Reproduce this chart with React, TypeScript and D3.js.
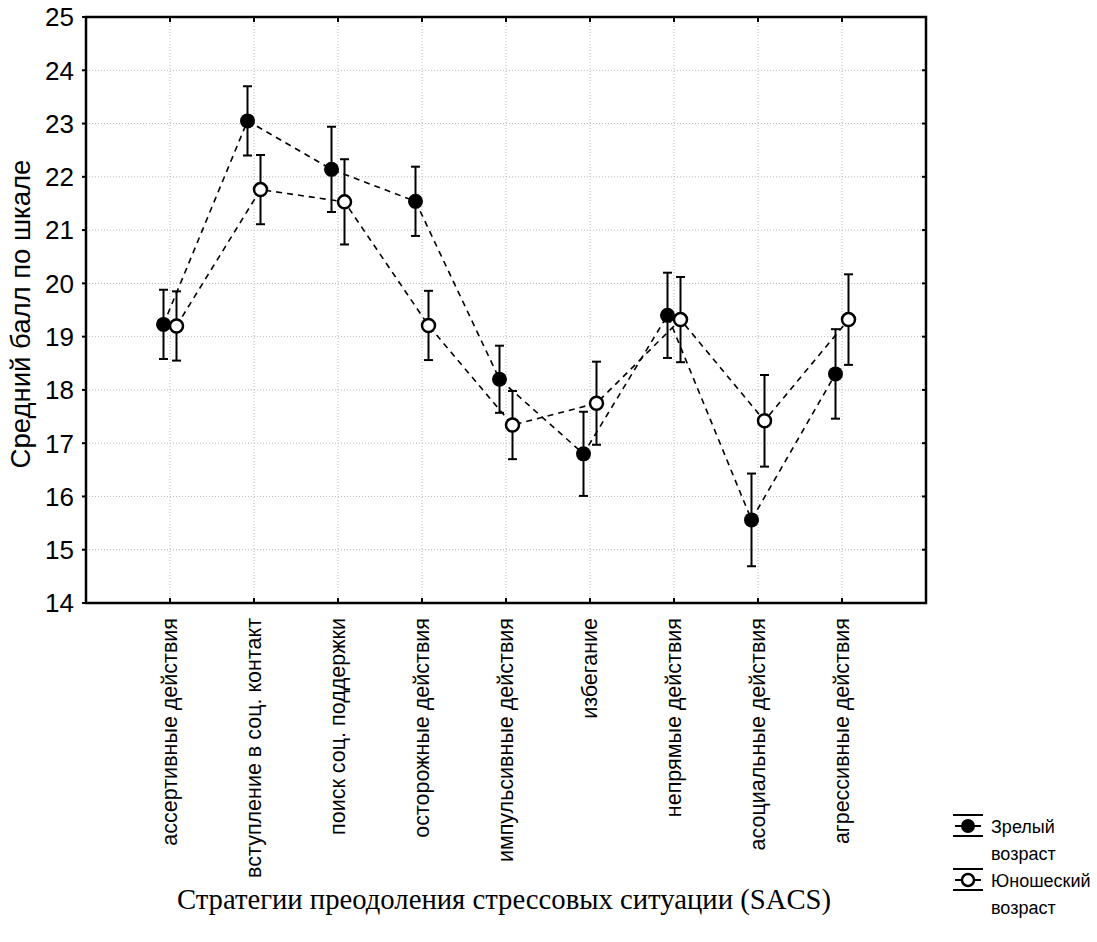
import React from "react";
import * as d3 from "d3";

const categories = [
  "ассертивные действия",
  "вступление в соц. контакт",
  "поиск соц. поддержки",
  "осторожные действия",
  "импульсивные действия",
  "избегание",
  "непрямые действия",
  "асоциальные действия",
  "агрессивные действия",
];

const matureMean = [19.23, 23.05, 22.14, 21.54, 18.2, 16.8, 19.4, 15.56, 18.3];
const matureErr = [0.65, 0.65, 0.8, 0.65, 0.63, 0.79, 0.8, 0.87, 0.84];
const youthMean = [19.2, 21.76, 21.53, 19.21, 17.34, 17.75, 19.32, 17.42, 19.32];
const youthErr = [0.65, 0.65, 0.8, 0.65, 0.64, 0.78, 0.8, 0.86, 0.85];

const yTicks = [14, 15, 16, 17, 18, 19, 20, 21, 22, 23, 24, 25];
const legendLabels = [["Зрелый", "возраст"], ["Юношеский", "возраст"]];
const yTitle = "Средний балл по шкале";
const xTitle = "Стратегии преодоления стрессовых ситуации (SACS)";

export default function App() {
  const W = 1097, H = 942;
  const left = 86, right = 926, top = 17, bottom = 603;
  const x = d3.scaleLinear().domain([0, 10]).range([left, right]);
  const y = d3.scaleLinear().domain([14, 25]).range([bottom, top]);
  const off = 6.5;
  const sans = "Arial, 'Liberation Sans', sans-serif";

  const matureLine = d3.line<number>().x((_, i) => x(i + 1) - off).y((d) => y(d));
  const youthLine = d3.line<number>().x((_, i) => x(i + 1) + off).y((d) => y(d));

  const errBar = (cx: number, m: number, e: number, key: string) => (
    <g key={key} stroke="#000" strokeWidth={2}>
      <line x1={cx} x2={cx} y1={y(m + e)} y2={y(m - e)} />
      <line x1={cx - 4.5} x2={cx + 4.5} y1={y(m + e)} y2={y(m + e)} />
      <line x1={cx - 4.5} x2={cx + 4.5} y1={y(m - e)} y2={y(m - e)} />
    </g>
  );

  return (
    <svg width={W} height={H} style={{ position: "absolute", left: 0, top: 0, background: "#fff" }}>
      <rect x={0} y={0} width={W} height={H} fill="#fff" />
      {/* grid */}
      {yTicks.slice(1, -1).map((t) => (
        <line key={"gy" + t} x1={left} x2={right} y1={y(t)} y2={y(t)} stroke="#b8b8b8" strokeWidth={1} strokeDasharray="1,2" />
      ))}
      {categories.map((c, i) => (
        <line key={"gx" + i} x1={x(i + 1)} x2={x(i + 1)} y1={top} y2={bottom} stroke="#b8b8b8" strokeWidth={1} strokeDasharray="1,2" />
      ))}
      {/* ticks */}
      {yTicks.map((t) => (
        <g key={"ty" + t} stroke="#000" strokeWidth={2}>
          <line x1={left - 4} x2={left} y1={y(t)} y2={y(t)} />
          <line x1={right - 4} x2={right} y1={y(t)} y2={y(t)} />
        </g>
      ))}
      {categories.map((c, i) => (
        <g key={"tx" + i} stroke="#000" strokeWidth={2}>
          <line x1={x(i + 1)} x2={x(i + 1)} y1={bottom} y2={bottom - 5} />
          <line x1={x(i + 1)} x2={x(i + 1)} y1={top} y2={top + 5} />
        </g>
      ))}
      {/* frame */}
      <rect x={left} y={top} width={right - left} height={bottom - top} fill="none" stroke="#000" strokeWidth={2.5} />
      {/* y tick labels */}
      {yTicks.map((t) => (
        <text key={"yl" + t} x={left - 12} y={y(t)} dy="0.36em" textAnchor="end" fontFamily={sans} fontSize={26} fill="#000">
          {t}
        </text>
      ))}
      {/* x category labels */}
      {categories.map((c, i) => (
        <text key={"xl" + i} transform={`translate(${x(i + 1) + 7},${bottom + 15}) rotate(-90)`} textAnchor="end" fontFamily={sans} fontSize={21.5} fill="#000">
          {c}
        </text>
      ))}
      {/* lines */}
      <path d={matureLine(matureMean) || ""} fill="none" stroke="#000" strokeWidth={1.6} strokeDasharray="6,5" />
      <path d={youthLine(youthMean) || ""} fill="none" stroke="#000" strokeWidth={1.6} strokeDasharray="6,5" />
      {/* error bars */}
      {matureMean.map((m, i) => errBar(x(i + 1) - off, m, matureErr[i], "em" + i))}
      {youthMean.map((m, i) => errBar(x(i + 1) + off, m, youthErr[i], "ey" + i))}
      {/* markers */}
      {matureMean.map((m, i) => (
        <circle key={"mm" + i} cx={x(i + 1) - off} cy={y(m)} r={7.5} fill="#000" />
      ))}
      {youthMean.map((m, i) => (
        <circle key={"my" + i} cx={x(i + 1) + off} cy={y(m)} r={6.5} fill="#fff" stroke="#000" strokeWidth={2.5} />
      ))}
      {/* axis titles */}
      <text transform={`translate(30,314) rotate(-90)`} textAnchor="middle" fontFamily={sans} fontSize={27.5} fill="#000">
        {yTitle}
      </text>
      <text x={504} y={909} textAnchor="middle" fontFamily="'Liberation Serif', 'Times New Roman', serif" fontSize={28.7} fill="#000">
        {xTitle}
      </text>
      {/* legend */}
      {legendLabels.map((lab, k) => {
        const cy = 826 + k * 54;
        return (
          <g key={"lg" + k}>
            <line x1={953} x2={983} y1={cy - 11} y2={cy - 11} stroke="#000" strokeWidth={2} />
            <line x1={953} x2={983} y1={cy + 10} y2={cy + 10} stroke="#000" strokeWidth={2} />
            <line x1={955} x2={981} y1={cy} y2={cy} stroke="#000" strokeWidth={2} />
            {k === 0 ? (
              <circle cx={968} cy={cy} r={7} fill="#000" />
            ) : (
              <circle cx={968} cy={cy} r={6} fill="#fff" stroke="#000" strokeWidth={2.5} />
            )}
            <text x={991} y={cy + 7} fontFamily={sans} fontSize={18} fill="#000">{lab[0]}</text>
            <text x={991} y={cy + 34} fontFamily={sans} fontSize={18} fill="#000">{lab[1]}</text>
          </g>
        );
      })}
    </svg>
  );
}
